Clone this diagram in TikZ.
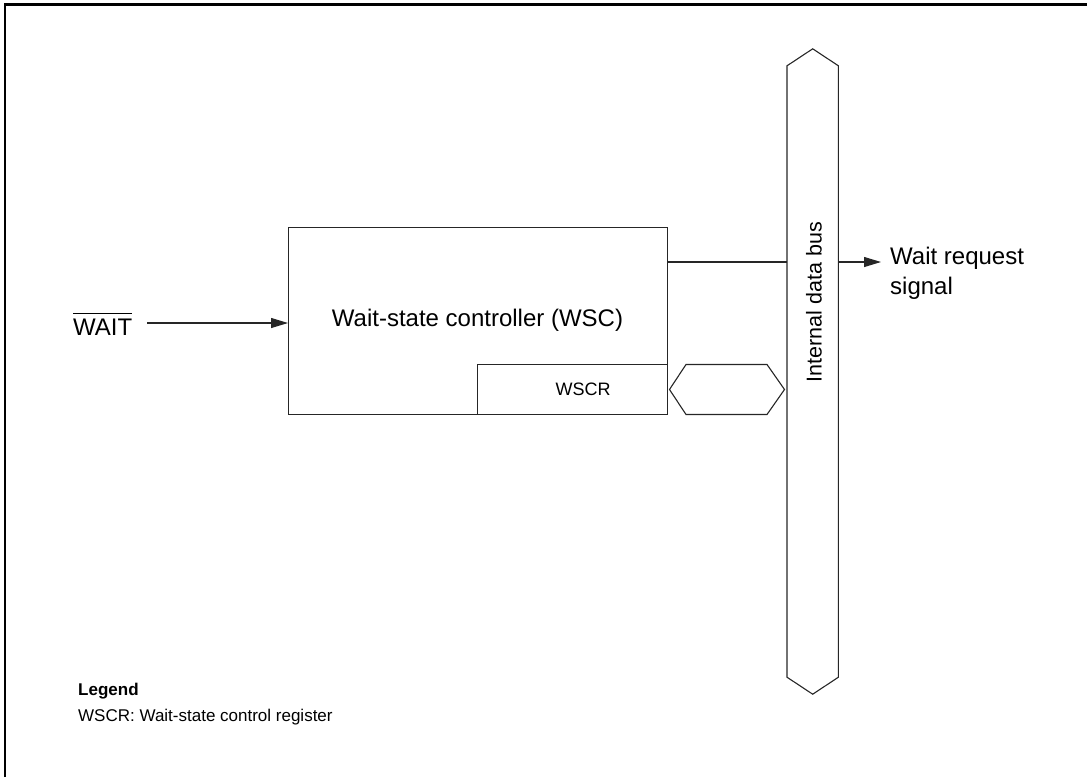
\documentclass[tikz,border=0pt]{standalone}
\usepackage{fontspec}
\setmainfont{Liberation Sans}
\usetikzlibrary{arrows.meta}
\begin{document}
\begin{tikzpicture}[x=1pt,y=-1pt,
  thin line/.style={line width=1.1pt,draw=black!85},
  blk/.style={thin line,rectangle,inner sep=0pt},
  lbl/.style={inner sep=0pt,font=\fontsize{24}{30}\selectfont},
  sml/.style={inner sep=0pt,font=\fontsize{18}{26}\selectfont},
  leglbl/.style={inner sep=0pt,font=\fontsize{17}{26}\selectfont},
  buslbl/.style={inner sep=0pt,font=\fontsize{21.5}{26}\selectfont},
  arr/.style={thin line,-{Triangle[length=17pt,width=10pt]}}]
\useasboundingbox (0,0) rectangle (1087,777);
% frame
\draw[line width=2.7pt] (5,777) -- (5,4.5) -- (1087,4.5);
% main controller
\node[blk,minimum width=379pt,minimum height=187pt,anchor=north west] (wsc) at (288,227) {};
\node[lbl] (wsct) at (477.5,320) {Wait-state controller (WSC)};
\node[blk,minimum width=190pt,minimum height=50pt,anchor=south east] (wscr) at (wsc.south east) {};
\node[sml] (wscrt) at (583,389) {WSCR};
% WAIT input
\node[lbl,anchor=base west] (wait) at (73,335) {WAIT};
\draw[line width=1.1pt] ([yshift=5pt]wait.north west) -- ([yshift=5pt]wait.north east);
\coordinate (win) at (147,323);
\draw[arr] (win) -- (win -| wsc.west);
% internal data bus
\node[inner sep=0pt,minimum width=51pt,minimum height=611pt] (bus) at (812.7,371.5) {};
\draw[thin line] (bus.north west) -- ([yshift=17pt]bus.north) -- (bus.north east)
  -- (bus.south east) -- ([yshift=-17pt]bus.south) -- (bus.south west) -- cycle;
\node[buslbl,rotate=90] (bust) at (814,302) {Internal data bus};
% small bus between WSCR and internal bus
\draw[thin line] (669.5,389.5) -- (686,364.5) -- (767,364.5) -- (784.5,389.5) -- (767,414.5) -- (686,414.5) -- cycle;
% output
\coordinate (o1) at ([yshift=-35pt]wsc.north east);
\draw[thin line] (o1) -- (o1 -| bus.west);
\node[lbl,anchor=north west,align=left] (wrs) at (890,247) {Wait request\\signal};
\coordinate (otip) at (881,0);
\draw[arr] (o1 -| bus.east) -- (o1 -| otip);
% legend
\node[leglbl,anchor=north west,align=left] (leg) at (78,683) {\textbf{Legend}\\WSCR: Wait-state control register};
\end{tikzpicture}
\end{document}
